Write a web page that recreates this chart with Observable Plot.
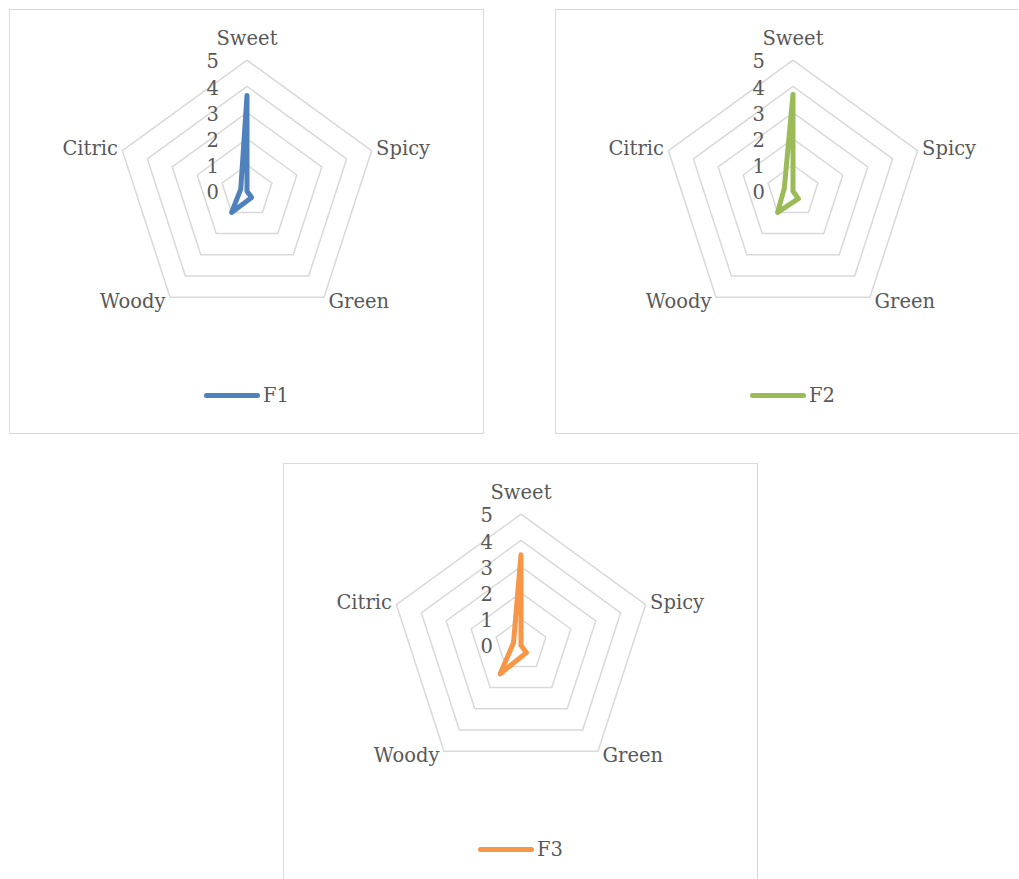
<!DOCTYPE html>
<html>
<head>
<meta charset="utf-8">
<script src="https://cdn.jsdelivr.net/npm/d3@7"></script>
<script src="https://cdn.jsdelivr.net/npm/@observablehq/plot@0.6"></script>
<style>
  html, body { margin: 0; padding: 0; background: #fff; }
  body { width: 1019px; height: 879px; overflow: hidden; position: relative; }
  .box {
    position: absolute; box-sizing: border-box;
    width: 475px; height: 425px;
    border: 1px solid #D9D9D9; background: #fff;
  }
  .box svg { display: block; }
  .legend {
    position: absolute; left: 0; right: 0; top: 373px; height: 24px;
    display: flex; align-items: center; justify-content: center;
    font-family: "DejaVu Serif", serif; font-size: 19.5px; color: #595959;
  }
  .legend .swatch { width: 56px; height: 5px; border-radius: 3px; margin-right: 3px; }
</style>
</head>
<body>
<div id="c1" class="box" style="left:9px; top:9px;"></div>
<div id="c2" class="box" style="left:555px; top:9px;"></div>
<div id="c3" class="box" style="left:283px; top:463px;"></div>
<script>
// Aroma attributes around the radar, clockwise from the top
const categories = ["Sweet", "Spicy", "Green", "Woody", "Citric"];

// Panel scores per sample
const seriesNames = ["F1", "F2", "F3"];
const f1 = [3.65, 0, 0.3, 1.0, 0.25];
const f2 = [3.7, 0, 0.35, 1.0, 0.35];
const f3 = [3.45, 0, 0.35, 1.35, 0.3];
const seriesColors = ["#4F81BD", "#9BBB59", "#F79646"];

// Radial scale: gridline rings and their tick labels
const ringValues = [1, 2, 3, 4, 5];
const tickLabels = [0, 1, 2, 3, 4, 5];

const rMax = 5;
const W = 473, H = 372;
const pxPerUnit = 131 / rMax;
const cx = W / 2, cy = 180.7;

const N = categories.length;
const ang = i => 2 * Math.PI * i / N;
const px = (r, i) => r * Math.sin(ang(i));
const py = (r, i) => r * Math.cos(ang(i));

function radar(name, values, color) {
  const rings = ringValues.flatMap(v => categories.map((c, i) => ({v, i})));
  const pts = categories.map((c, i) => ({c, i, v: values[i]}));

  const labelMarks = categories.map((c, i) => {
    const s = Math.sin(ang(i)), co = Math.cos(ang(i));
    const anchor = s > 0.1 ? "start" : s < -0.1 ? "end" : "middle";
    const dx = s > 0.1 ? 4.5 : s < -0.1 ? -4.5 : 0;
    const dy = co > 0.9 ? -21 : co > 0 ? -2 : 4.5;
    return Plot.text([c], {
      x: () => px(rMax, i), y: () => py(rMax, i), text: d => d,
      textAnchor: anchor, dx, dy
    });
  });

  return Plot.plot({
    width: W, height: H,
    marginTop: 0, marginRight: 0, marginBottom: 0, marginLeft: 0,
    x: {domain: [-cx / pxPerUnit, (W - cx) / pxPerUnit], range: [0, W], axis: null},
    y: {domain: [-(H - cy) / pxPerUnit, cy / pxPerUnit], range: [H, 0], axis: null},
    style: {fontFamily: "'DejaVu Serif', serif", fontSize: "19.5px", color: "#595959", background: "transparent"},
    marks: [
      Plot.line(rings, {
        x: d => px(d.v, d.i), y: d => py(d.v, d.i), z: "v",
        curve: "linear-closed", stroke: "#D9D9D9", strokeWidth: 1.5
      }),
      Plot.text(tickLabels, {
        x: () => 0, y: d => d, text: d => String(d),
        textAnchor: "end", dx: -28, dy: 2
      }),
      ...labelMarks,
      Plot.line(pts, {
        x: d => px(d.v, d.i), y: d => py(d.v, d.i),
        curve: "linear-closed", stroke: color, strokeWidth: 5,
        strokeLinejoin: "round", strokeLinecap: "round"
      })
    ]
  });
}

function legend(name, color) {
  const el = document.createElement("div");
  el.className = "legend";
  const sw = document.createElement("span");
  sw.className = "swatch";
  sw.style.background = color;
  const t = document.createElement("span");
  t.textContent = name;
  el.append(sw, t);
  return el;
}

const allValues = [f1, f2, f3];
["c1", "c2", "c3"].forEach((id, k) => {
  const box = document.getElementById(id);
  box.append(radar(seriesNames[k], allValues[k], seriesColors[k]));
  box.append(legend(seriesNames[k], seriesColors[k]));
});
</script>
</body>
</html>
